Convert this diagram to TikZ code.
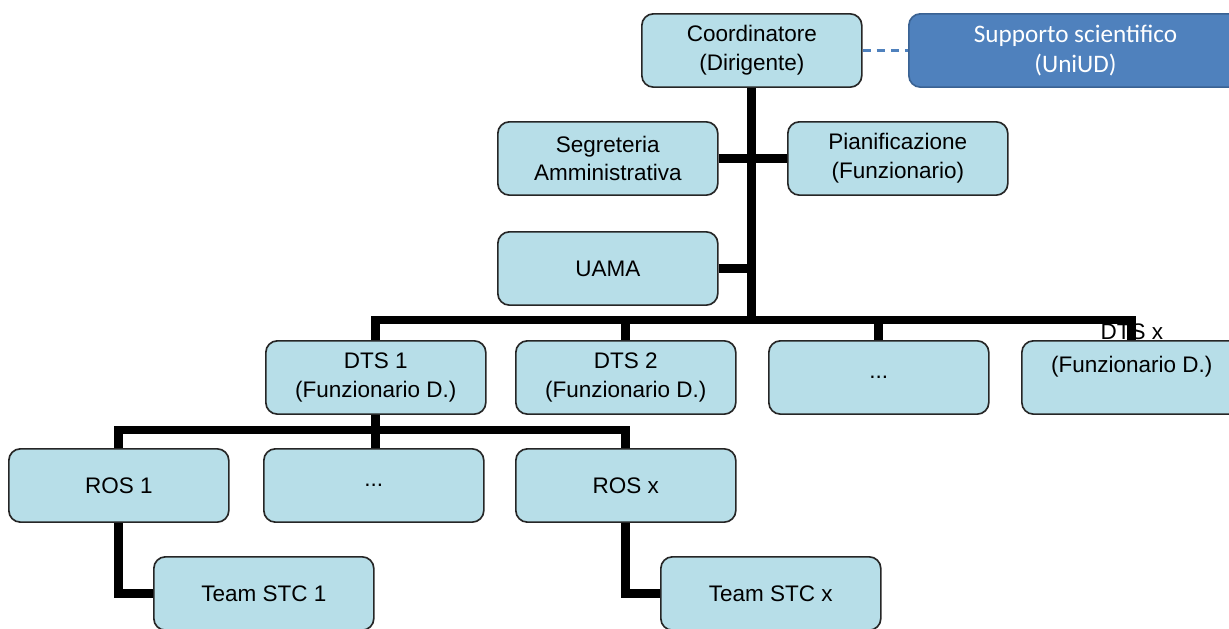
\documentclass[tikz,border=0pt]{standalone}
\usepackage{fontspec}
\setmainfont{Liberation Sans}
\newfontfamily\calibrifont{Carlito}
\usepackage{xcolor}
\usepackage{tikz}
\usetikzlibrary{calc,positioning}

\definecolor{boxfill}{HTML}{B7DEE8}
\definecolor{suppfill}{HTML}{4F81BD}
\definecolor{suppline}{HTML}{3A6293}

\begin{document}
\begin{tikzpicture}[
  unit/.style={draw=black!85, line width=1.4pt, rounded corners=0.35cm, fill=boxfill,
    minimum width=6.6cm, minimum height=2.2cm, align=center,
    font=\fontsize{19.2}{24.5}\selectfont},
  link/.style={line width=7.5pt},
  dashlink/.style={suppfill, line width=2pt, dash pattern=on 7pt off 5pt}
]

\coordinate(O1) at (0,0);
\clip (0,0) rectangle (36.87,-18.84);
\fill[white] (0,0) rectangle (36.87,-18.84);

% top
\node[below right=0.39cm and 19.23cm of O1,unit](coord) {Coordinatore\\(Dirigente)};
\node[below right=0.39cm and 27.24cm of O1,draw=suppline, line width=1.4pt, rounded corners=0.35cm,
  fill=suppfill, text=white, minimum width=10cm, minimum height=2.2cm, align=center,
  font=\calibrifont\fontsize{21.5}{25.5}\selectfont](supp) {Supporto scientifico\\(UniUD)};

% staff
\node[below right=3.63cm and 14.91cm of O1,unit](segr) {Segreteria\\Amministrativa};
\node[below right=3.63cm and 23.61cm of O1,unit](pian) {Pianificazione\\(Funzionario)};
\node[below right=6.93cm and 14.91cm of O1,unit](uama) {UAMA};

% DTS row
\node[below right=10.2cm and 7.95cm of O1,unit](dts1) {DTS 1\\(Funzionario D.)};
\node[below right=10.2cm and 15.45cm of O1,unit](dts2) {DTS 2\\(Funzionario D.)};
\node[below right=10.2cm and 23.04cm of O1,unit](dtsd) {...};
\node[below right=10.2cm and 30.63cm of O1,unit,
  label={[align=center,anchor=north,yshift=0.62cm,font=\fontsize{19.2}{28.5}\selectfont]north:{DTS x\\(Funzionario D.)}}](dtsx) {};

% ROS row
\node[below right=13.44cm and 0.24cm of O1,unit](ros1) {ROS 1};
\node[below right=13.44cm and 7.89cm of O1,unit](rosd) {...};
\node[below right=13.44cm and 15.45cm of O1,unit](rosx) {ROS x};

\node[below right=16.68cm and 4.59cm of O1,unit](stc1) {Team STC 1};
\node[below right=16.68cm and 19.8cm of O1,unit](stcx) {Team STC x};

\coordinate[above=0.6cm of dts1.north](b1);
\coordinate[above=0.54cm of ros1.north](b2);

\draw[dashlink] (coord) -- (supp);
\draw[link] (coord.south) -- (coord.south |- b1);
\draw[link] (segr) -- (pian);
\draw[link] (uama.east) -- (uama.east -| coord.south);
\draw[link] (dts1.north) -- (b1) -| (dtsx.north);
\draw[link] (dts2.north) -- (dts2.north |- b1);
\draw[link] (dtsd.north) -- (dtsd.north |- b1);
\draw[link] (dts1.south) -- (dts1.south |- rosd.north);
\draw[link] (ros1.north) -- (b2) -| (rosx.north);
\draw[link] (ros1.south) |- (stc1.west);
\draw[link] (rosx.south) |- (stcx.west);
\end{tikzpicture}
\end{document}
